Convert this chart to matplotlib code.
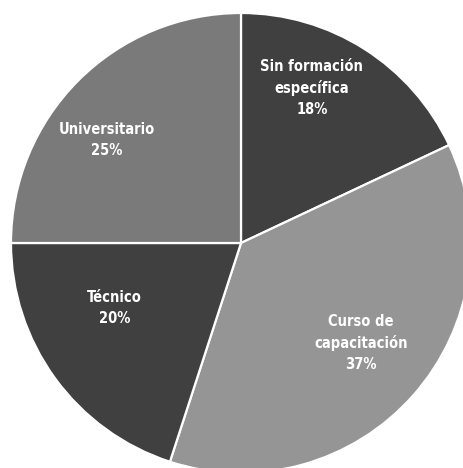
import matplotlib
matplotlib.use("Agg")
import matplotlib.pyplot as plt
import numpy as np
from matplotlib import font_manager

categories = ["Sin formación\nespecífica", "Curso de\ncapacitación", "Técnico", "Universitario"]
values = [18, 37, 20, 25]
colors = ["#404040", "#959595", "#404040", "#7a7a7a"]

W, H = 463, 468
fig = plt.figure(figsize=(W / 100, H / 100), dpi=100)
ax = fig.add_axes([0, 0, 1, 1])
cx, cy, R = 241, 243, 230

wedges, _ = ax.pie(values, colors=colors, startangle=90, counterclock=False,
                   radius=1, wedgeprops=dict(edgecolor="white", linewidth=1.6))
ax.set_aspect("auto")
ax.set_xlim(-cx / R, (W - cx) / R)
ax.set_ylim(-(H - cy) / R, cy / R)
ax.axis("off")

# label placement: (radial fraction, angular shift from wedge middle in degrees)
dists = [0.74, 0.68, 0.62, 0.735]
shifts = [7.8, 1.6, -8.7, 7.5]
fp = font_manager.FontProperties(family="DejaVu Sans", weight="bold", stretch="condensed", size=10.5)
for w, cat, v, d, s in zip(wedges, categories, values, dists, shifts):
    ang = np.deg2rad((w.theta1 + w.theta2) / 2 + s)
    ax.text(d * np.cos(ang), d * np.sin(ang), f"{cat}\n{v}%", ha="center", va="center",
            color="white", fontproperties=fp, linespacing=1.5)

fig.savefig("out.png", dpi=100)
